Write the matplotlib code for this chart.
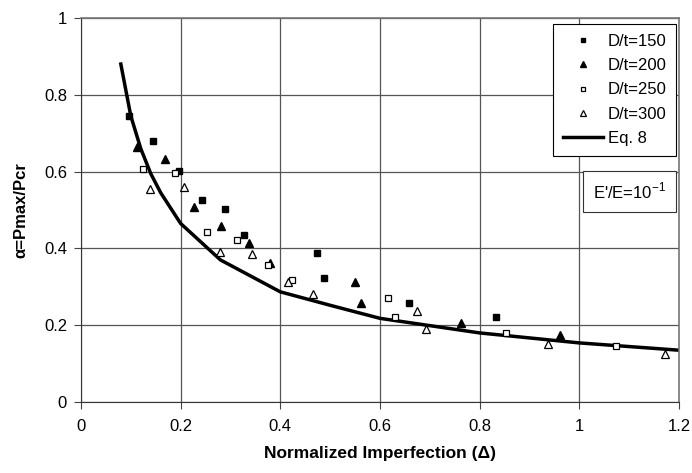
import matplotlib
matplotlib.use("Agg")
import matplotlib.pyplot as plt

plt.rcParams['font.family'] = ['Liberation Sans', 'DejaVu Sans']

# D/t = 150 (filled squares)
x150 = [0.097, 0.145, 0.196, 0.243, 0.29, 0.328, 0.474, 0.487, 0.659, 0.833]
y150 = [0.745, 0.679, 0.601, 0.526, 0.503, 0.435, 0.388, 0.323, 0.257, 0.221]

# D/t = 200 (filled triangles)
x200 = [0.113, 0.169, 0.226, 0.282, 0.337, 0.38, 0.551, 0.563, 0.763, 0.962]
y200 = [0.665, 0.633, 0.509, 0.458, 0.413, 0.363, 0.313, 0.259, 0.207, 0.174]

# D/t = 250 (open squares)
x250 = [0.124, 0.188, 0.253, 0.313, 0.376, 0.424, 0.616, 0.631, 0.853, 1.074]
y250 = [0.607, 0.596, 0.444, 0.421, 0.358, 0.317, 0.271, 0.222, 0.179, 0.146]

# D/t = 300 (open triangles)
x300 = [0.138, 0.206, 0.279, 0.344, 0.416, 0.465, 0.675, 0.693, 0.937, 1.172]
y300 = [0.556, 0.561, 0.391, 0.386, 0.313, 0.282, 0.237, 0.189, 0.150, 0.125]

# Eq. 8 curve
xeq = [0.08, 0.1, 0.12, 0.14, 0.16, 0.2, 0.28, 0.4, 0.5, 0.6, 0.8, 1.0, 1.2]
yeq = [0.88, 0.745, 0.66, 0.595, 0.545, 0.465, 0.37, 0.287, 0.252, 0.218, 0.18, 0.154, 0.135]

fig = plt.figure(figsize=(6.92, 4.73), dpi=100)
ax = fig.add_axes([0.117, 0.150, 0.864, 0.812])

ax.plot(x150, y150, 's', color='black', ms=5, label='D/t=150', zorder=3)
ax.plot(x200, y200, '^', color='black', ms=6, label='D/t=200', zorder=3)
ax.plot(x250, y250, 's', mfc='white', mec='black', mew=0.9, ms=5, label='D/t=250', zorder=3)
ax.plot(x300, y300, '^', mfc='white', mec='black', mew=0.9, ms=6, label='D/t=300', zorder=3)
ax.plot(xeq, yeq, '-', color='black', lw=2.5, label='Eq. 8', zorder=2)

ax.set_xlim(0, 1.2)
ax.set_ylim(0, 1)
ax.set_xticks([0, 0.2, 0.4, 0.6, 0.8, 1.0, 1.2])
ax.set_xticklabels(['0', '0.2', '0.4', '0.6', '0.8', '1', '1.2'])
ax.set_yticks([0, 0.2, 0.4, 0.6, 0.8, 1.0])
ax.set_yticklabels(['0', '0.2', '0.4', '0.6', '0.8', '1'])
ax.tick_params(labelsize=12, direction='out', length=5, width=0.8, color='#444444')
ax.tick_params(axis='x', pad=7)
ax.tick_params(axis='y', pad=5)

ax.grid(True, color='#555555', lw=0.9)
ax.set_axisbelow(True)
for s in ['top', 'right']:
    ax.spines[s].set_color('#777777')
    ax.spines[s].set_linewidth(1.2)
for s in ['left', 'bottom']:
    ax.spines[s].set_color('#333333')
    ax.spines[s].set_linewidth(0.8)

ax.set_xlabel('Normalized Imperfection (Δ)', fontsize=12.5, fontweight='bold', labelpad=9)
ax.set_ylabel('α=Pmax/Pcr', fontsize=12, fontweight='bold', labelpad=11)

leg = ax.legend(loc='upper right', bbox_to_anchor=(0.996, 0.984), fontsize=12,
                markerscale=0.7, handlelength=2.4, handletextpad=0.25,
                borderpad=0.6, labelspacing=0.55, borderaxespad=0,
                frameon=True, fancybox=False, edgecolor='black', framealpha=1)
leg.get_frame().set_linewidth(0.8)

ax.text(0.978, 0.548, "E'/E=10$^{\\mathregular{-1}}$", transform=ax.transAxes,
        ha='right', va='center', fontsize=12,
        bbox=dict(boxstyle='square,pad=0.6', fc='white', ec='#333333', lw=0.8))

fig.savefig('out.png', dpi=100)
